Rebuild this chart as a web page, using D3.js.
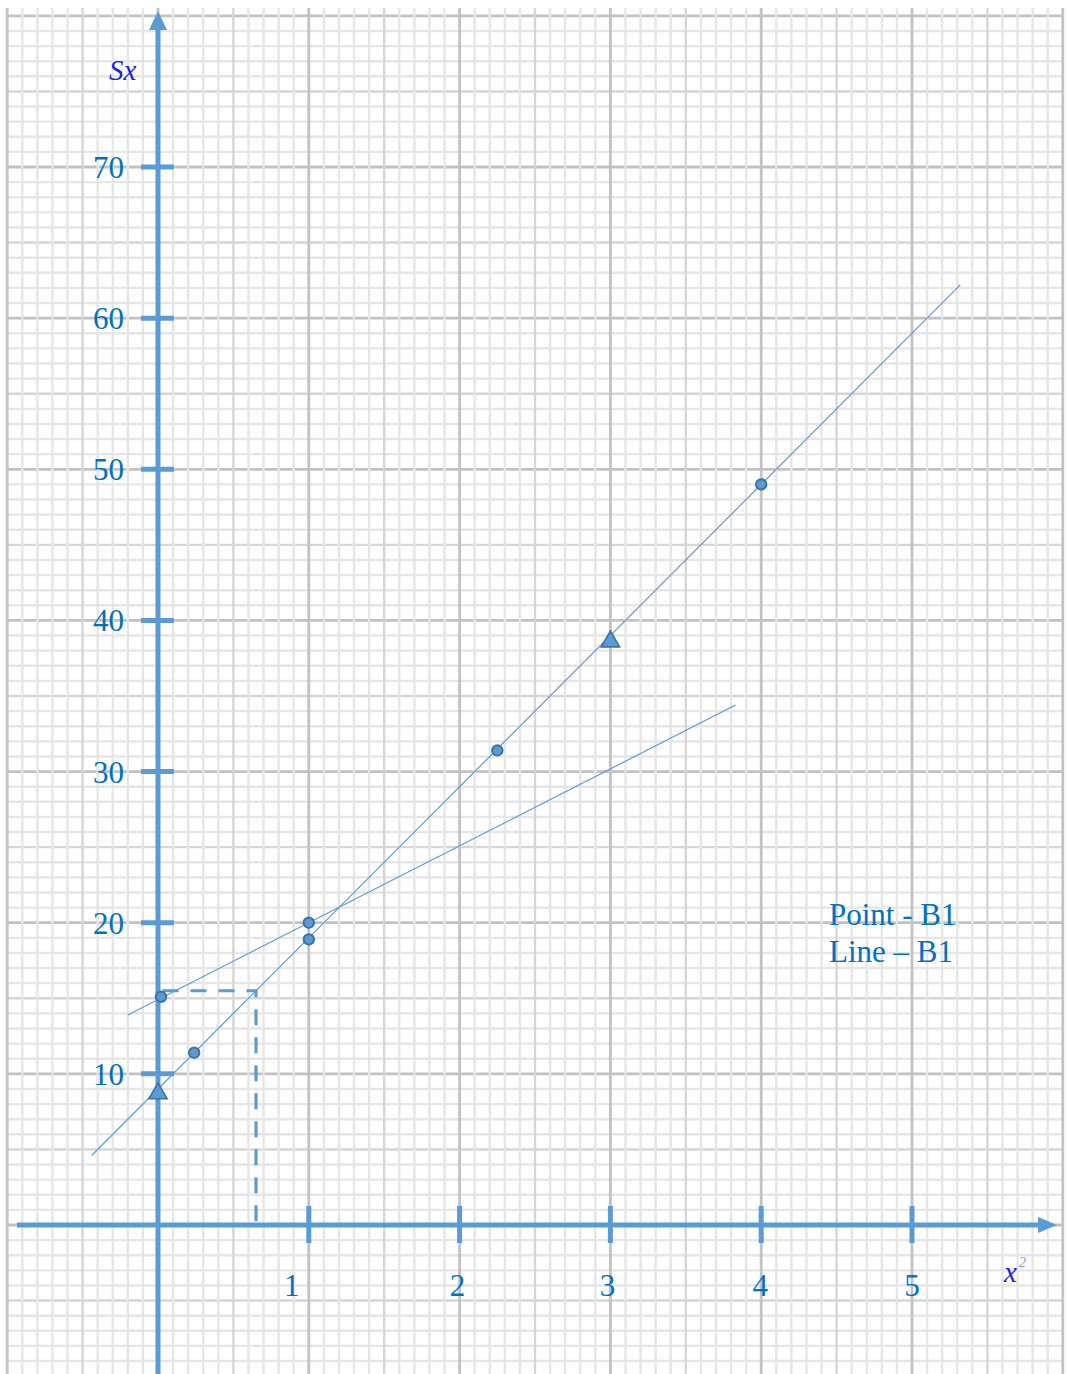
<!DOCTYPE html>
<html>
<head>
<meta charset="utf-8">
<script src="https://cdn.jsdelivr.net/npm/d3@7"></script>
<style>
  body { margin: 0; background: #fff; }
</style>
</head>
<body>
<script>
// data
var xTicks = [1, 2, 3, 4, 5];
var yTicks = [10, 20, 30, 40, 50, 60, 70];
var xLabelNudge = [-17, -2, -3, -1, 0]; // labels sit a bit off their ticks

// points on the steep line (x^2, Sx)
var pointsA = [[0.24, 11.4], [1, 18.9], [2.25, 31.4], [4, 49]];
var trianglesA = [[0, 8.7], [3, 38.6]];
// points on the shallow line
var pointsB = [[0.02, 15.1], [1, 20]];

// fitted lines, end points
var lineA = [[-0.44, 4.6], [5.32, 62.2]];
var lineB = [[-0.2, 13.9], [3.83, 34.4]];

// dashed read-off
var readOff = [[0.03, 15.5], [0.65, 15.5], [0.65, 0]];

var legendLines = ["Point - B1", "Line \u2013 B1"];

var W = 1067, H = 1374;
var blue = "#5b9bd5", dark = "#41719c", textBlue = "#0070c0";
var serif = "'Liberation Serif', 'Times New Roman', serif";

var svg = d3.select("body")
  .append("svg")
  .attr("width", W)
  .attr("height", H);

var x = d3.scaleLinear().domain([0, 5]).range([158, 912]);
var y = d3.scaleLinear().domain([0, 70]).range([1225, 167]);

// graph paper
var paper = {left: 8, right: x(6), top: 8, bottom: H};
var grid = svg.append("g");

function gridColor(i) {
  if (i % 10 === 0) return "#c2c2c2";
  if (i % 5 === 0) return "#d6d6d6";
  return "#e6e6e6";
}
function gridWidth(i) {
  return i % 10 === 0 ? 2.8 : 2.4;
}

var vIdx = d3.range(-10, 61); // tenths of x unit
var hIdx = d3.range(-10, 81); // y units

// draw fine first, heavy last so heavy sits on top
var order = function(a, b) { return (a % 10 === 0) - (b % 10 === 0) || (a % 5 === 0) - (b % 5 === 0); };

grid.selectAll("line.h")
  .data(hIdx.slice().sort(order))
  .enter()
  .append("line")
  .attr("class", "h")
  .attr("x1", paper.left)
  .attr("x2", paper.right)
  .attr("y1", function(d) { return y(d); })
  .attr("y2", function(d) { return y(d); })
  .attr("stroke", gridColor)
  .attr("stroke-width", gridWidth);

grid.selectAll("line.v")
  .data(vIdx.slice().sort(order))
  .enter()
  .append("line")
  .attr("class", "v")
  .attr("y1", paper.top)
  .attr("y2", paper.bottom)
  .attr("x1", function(d) { return x(d / 10); })
  .attr("x2", function(d) { return x(d / 10); })
  .attr("stroke", gridColor)
  .attr("stroke-width", gridWidth);

// dashed read-off lines
svg.append("path")
  .attr("d", d3.line().x(function(d) { return x(d[0]); }).y(function(d) { return y(d[1]); })(readOff))
  .attr("fill", "none")
  .attr("stroke", blue)
  .attr("stroke-width", 3.2)
  .attr("stroke-dasharray", "16,12");

// axes
var axes = svg.append("g").attr("stroke", blue).attr("stroke-width", 5);
axes.append("line")
  .attr("x1", x(0)).attr("x2", x(0))
  .attr("y1", H).attr("y2", 28);
axes.append("line")
  .attr("x1", 17).attr("x2", 1040)
  .attr("y1", y(0)).attr("y2", y(0));

svg.append("path")
  .attr("d", "M" + x(0) + ",11L" + (x(0) - 9) + ",30L" + (x(0) + 9) + ",30Z")
  .attr("fill", blue);
svg.append("path")
  .attr("d", "M1057," + y(0) + "L1038," + (y(0) - 8) + "L1038," + (y(0) + 8) + "Z")
  .attr("fill", blue);

// tick marks
axes.selectAll("line.yt")
  .data(yTicks)
  .enter()
  .append("line")
  .attr("class", "yt")
  .attr("x1", 141).attr("x2", 174)
  .attr("y1", function(d) { return y(d); })
  .attr("y2", function(d) { return y(d); });

axes.selectAll("line.xt")
  .data(xTicks)
  .enter()
  .append("line")
  .attr("class", "xt")
  .attr("y1", y(0) - 19).attr("y2", y(0) + 18)
  .attr("x1", function(d) { return x(d); })
  .attr("x2", function(d) { return x(d); });

// tick labels
svg.selectAll("text.yl")
  .data(yTicks)
  .enter()
  .append("text")
  .attr("class", "yl")
  .attr("x", 124)
  .attr("y", function(d) { return y(d) + 11; })
  .attr("text-anchor", "end")
  .attr("font-family", serif)
  .attr("font-size", "31px")
  .attr("fill", textBlue)
  .text(function(d) { return d; });

svg.selectAll("text.xl")
  .data(xTicks)
  .enter()
  .append("text")
  .attr("class", "xl")
  .attr("x", function(d, i) { return x(d) + xLabelNudge[i]; })
  .attr("y", y(0) + 71)
  .attr("text-anchor", "middle")
  .attr("font-family", serif)
  .attr("font-size", "31px")
  .attr("fill", textBlue)
  .text(function(d) { return d; });

// axis titles
svg.append("text")
  .attr("x", 109)
  .attr("y", 80)
  .attr("font-family", serif)
  .attr("font-style", "italic")
  .attr("font-size", "29px")
  .attr("fill", "#1f1fe6")
  .text("Sx");

var xt = svg.append("text")
  .attr("x", 1004)
  .attr("y", 1282)
  .attr("font-family", serif)
  .attr("font-style", "italic")
  .attr("font-size", "29px")
  .attr("fill", "#1f1fe6");
xt.append("tspan").text("x");
xt.append("tspan")
  .attr("dx", 2)
  .attr("dy", -15)
  .attr("font-size", "14px")
  .attr("fill", "#8f8ff0")
  .text("2");

// fitted lines
var line = d3.line().x(function(d) { return x(d[0]); }).y(function(d) { return y(d[1]); });
[lineA, lineB].forEach(function(l) {
  svg.append("path")
    .attr("d", line(l))
    .attr("fill", "none")
    .attr("stroke", blue)
    .attr("stroke-width", 1.2);
});

// markers
svg.selectAll("circle")
  .data(pointsA.concat(pointsB))
  .enter()
  .append("circle")
  .attr("cx", function(d) { return x(d[0]); })
  .attr("cy", function(d) { return y(d[1]); })
  .attr("r", 5.2)
  .attr("fill", blue)
  .attr("stroke", dark)
  .attr("stroke-width", 2);

svg.selectAll("path.tri")
  .data(trianglesA)
  .enter()
  .append("path")
  .attr("class", "tri")
  .attr("d", d3.symbol().type(d3.symbolTriangle).size(145))
  .attr("transform", function(d) { return "translate(" + x(d[0]) + "," + y(d[1]) + ")"; })
  .attr("fill", blue)
  .attr("stroke", dark)
  .attr("stroke-width", 1.6);

// legend text
svg.selectAll("text.leg")
  .data(legendLines)
  .enter()
  .append("text")
  .attr("class", "leg")
  .attr("x", 829)
  .attr("y", function(d, i) { return 925 + i * 37; })
  .attr("font-family", serif)
  .attr("font-size", "31px")
  .attr("fill", textBlue)
  .text(function(d) { return d; });
</script>
</body>
</html>
